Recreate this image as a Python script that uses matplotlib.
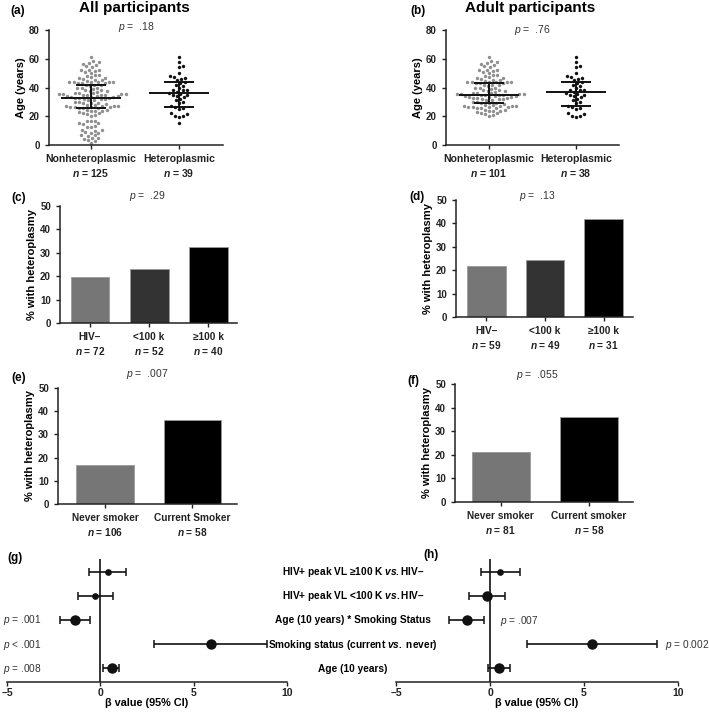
import numpy as np
import matplotlib
matplotlib.use("Agg")
import matplotlib.pyplot as plt

plt.rcParams['font.family'] = ['Liberation Sans', 'DejaVu Sans']
plt.rcParams['mathtext.fontset'] = 'custom'
plt.rcParams['mathtext.it'] = 'Liberation Sans:bold:italic'
plt.rcParams['mathtext.rm'] = 'Liberation Sans:bold'
plt.rcParams['mathtext.sf'] = 'Liberation Sans:italic'
plt.rcParams['axes.unicode_minus'] = False

# bold font for the category / row labels
CAL = ['Liberation Sans Narrow', 'Liberation Sans']

# ---- data ----
# ages of adult participants (panel b), children added for panel a
nonhet_adult_age = [
    61.5, 58, 58.5, 56.5, 57, 56, 54.5, 55, 52, 52.5, 51.5, 52, 50, 50.5,
    48.5, 49, 48, 46.5, 47, 46, 46.5, 45, 45.5, 44.5,
    43.5, 43, 44, 43.5, 43, 44, 43.5, 43, 44,
    41.5, 42, 41, 41.5, 39.5, 40, 39, 39.5,
    37.5, 38, 37, 37.5, 38,
    35.5, 35, 36, 35.5, 35, 36, 35.5, 35, 36, 35.5, 35,
    33.5, 34, 33, 33.5, 34, 33, 33.5, 34, 33,
    32, 31.5, 32, 31.5, 32, 29.5, 30, 29, 29.5, 30, 28, 28.5, 27.5,
    26.5, 27, 26, 26.5, 27, 26, 26.5, 27, 26, 26.5, 27,
    24, 24.5, 23.5, 24, 24.5, 22.5, 23, 22, 21, 21.5, 20.5,
]
nonhet_child_age = [17, 17, 16.5, 15, 15, 14.5, 13, 12.5, 12.5, 10.5, 10.5, 10,
                    9, 8.5, 8.5, 7, 7, 6.5, 5, 5, 4.5, 3.5, 3, 1.5]
het_adult_age = [61, 57.5, 55, 54, 50, 48, 47.5, 46.5, 46, 45, 43.5, 43, 42,
                 41, 40, 38.5, 38, 38, 37, 36.5, 35.5, 35, 35, 34, 33.5, 32,
                 31, 30, 29, 27, 26.5, 26, 25, 22, 21.5, 20.5, 20, 19.5]
het_child_age = [15]

# median and IQR lines (mid, low, high)
summ_all_nonhet = [33, 25.5, 41.5]
summ_all_het = [36.3, 26.5, 43.5]
summ_adult_nonhet = [34.5, 29, 43.3]
summ_adult_het = [37, 27, 43.7]

age_groups = ['Nonheteroplasmic', 'Heteroplasmic']
n_all = [125, 39]
n_adult = [101, 38]

hiv_groups = ['HIV\u2013', '<100 k', '\u2265100 k']
hiv_pct_all = [19.5, 23, 32.5]
hiv_n_all = [72, 52, 40]
hiv_pct_adult = [22, 24.5, 42]
hiv_n_adult = [59, 49, 31]

smk_all = ['Never smoker', 'Current Smoker']
smk_adult = ['Never smoker', 'Current smoker']
smk_pct_all = [17, 36]
smk_n_all = [106, 58]
smk_pct_adult = [21, 36]
smk_n_adult = [81, 58]

# forest plots, rows from bottom to top
forest_rows = ['Age (10 years)', 'Smoking status (current $\\mathit{vs.}$ never)',
               'Age (10 years) * Smoking Status',
               'HIV+ peak VL <100 K $\\mathit{vs.}$HIV\u2013',
               'HIV+ peak VL \u2265100 K $\\mathit{vs.}$HIV\u2013']
beta_all = [0.6, 5.94, -1.38, -0.27, 0.39]
lo_all = [0.16, 2.9, -2.18, -1.2, -0.6]
hi_all = [1.0, 8.95, -0.55, 0.7, 1.35]
p_all = ['= .008', '< .001', '= .001', '', '']
beta_adult = [0.5, 5.43, -1.25, -0.16, 0.55]
lo_adult = [-0.09, 1.96, -2.17, -1.14, -0.48]
hi_adult = [1.07, 8.9, -0.3, 0.8, 1.57]

W, H = 709, 712
fig = plt.figure(figsize=(W / 100, H / 100), dpi=100)


def ax_at(l, t, w, h):
    return fig.add_axes([l / W, 1 - (t + h) / H, w / W, h / H])


def ftext(x, y, s, **kw):
    return fig.text(x / W, 1 - y / H, s, **kw)


def style(ax, tickfont='Liberation Sans'):
    for s in ['top', 'right']:
        ax.spines[s].set_visible(False)
    for s in ['left', 'bottom']:
        ax.spines[s].set_linewidth(1.1)
        ax.spines[s].set_color('#222222')
    ax.tick_params(direction='out', length=3, width=1, colors='#222222')
    ax.tick_params(axis='y', labelsize=7)
    for lab in ax.get_yticklabels():
        lab.set_fontweight('bold')
        lab.set_family(tickfont)


def swarm(vals, px_y, px_x, d=4.3):
    # greedy beeswarm, offsets in data units
    vals = np.asarray(vals, float)
    order = np.argsort(vals)
    placed = []
    offs = np.zeros(len(vals))
    for i in order:
        y = vals[i] * px_y
        cands = [0.0]
        for px, py in placed:
            dy = y - py
            if abs(dy) < d:
                dx = np.sqrt(d * d - dy * dy)
                cands += [px + dx, px - dx]
        cands.sort(key=abs)
        for c in cands:
            if all((c - px) ** 2 + (y - py) ** 2 >= d * d - 1e-6 for px, py in placed):
                offs[i] = c
                placed.append((c, y))
                break
    return offs / px_x


def cat_labels(ax, groups, ns, size=8):
    ax.set_xticklabels([g + '\n$\\mathit{n}$ = %d' % n for g, n in zip(groups, ns)],
                       fontsize=size, family=CAL, fontweight='bold', linespacing=1.25)


def dot_panel(ax, groups, ages, summ, ns, px_x):
    px_y = 115 / 80
    cols = ['#8f8f8f', '#111111']
    for k, (a, s) in enumerate(zip(ages, summ)):
        off = swarm(a, px_y, px_x)
        ax.scatter(k + off, a, s=6, color=cols[k], linewidths=0, zorder=2)
        mid, lo, hi = s
        ax.hlines(mid, k - 0.34, k + 0.34, color='#111111', lw=1.4, zorder=3)
        ax.hlines([lo, hi], k - 0.17, k + 0.17, color='#111111', lw=1.4, zorder=3)
        ax.vlines(k, lo, hi, color='#111111', lw=1.4, zorder=3)
    ax.set_ylim(0, 80)
    ax.set_yticks([0, 20, 40, 60, 80])
    ax.set_xticks(range(len(groups)))
    cat_labels(ax, groups, ns, 7.5)
    ax.set_ylabel('Age (years)', fontsize=8, fontweight='bold', labelpad=2)
    style(ax)


def bar_panel(ax, groups, pct, ns, colors, tickfont='Liberation Sans'):
    x = np.arange(len(groups))
    ax.bar(x, pct, width=0.66, color=colors, edgecolor='#9a9a9a', linewidth=0.6)
    ax.set_ylim(0, 50)
    ax.set_yticks([0, 10, 20, 30, 40, 50])
    ax.set_xticks(x)
    cat_labels(ax, groups, ns, 7.3)
    ax.set_ylabel('% with heteroplasmy', fontsize=8, fontweight='bold', labelpad=2)
    style(ax, tickfont)


def forest_panel(ax, beta, lo, hi, big):
    y = np.arange(1, len(beta) + 1)
    for yi, b, l, h, bg in zip(y, beta, lo, hi, big):
        ax.errorbar(b, yi, xerr=[[b - l], [h - b]], fmt='o', color='#111111',
                    ms=6.5 if bg else 3.8, elinewidth=1.2, capsize=2.6, capthick=1.1)
    ax.axvline(0, color='#111111', lw=1.2)
    ax.set_xlim(-5, 10)
    ax.set_ylim(0.42, 5.54)
    ax.set_yticks([])
    ax.spines['left'].set_visible(False)
    ax.set_xticks([-5, 0, 5, 10])
    ax.set_xticklabels(['\u20135', '0', '5', '10'], family=CAL, fontweight='bold', fontsize=7.5)
    ax.set_xlabel('\u03b2 value (95% CI)', family=CAL, fontweight='bold', fontsize=7.8, labelpad=0)
    style(ax)
    ax.tick_params(axis='x', pad=1)


# (a) and (b) age dot plots
ax = ax_at(49, 30, 174, 115)
ax.set_xlim(-0.477, 1.5)
dot_panel(ax, age_groups, [nonhet_adult_age + nonhet_child_age, het_adult_age + het_child_age],
          [summ_all_nonhet, summ_all_het], n_all, 88)
ax = ax_at(446, 30, 173, 115)
ax.set_xlim(-0.494, 1.494)
dot_panel(ax, age_groups, [nonhet_adult_age, het_adult_age],
          [summ_adult_nonhet, summ_adult_het], n_adult, 87)

# (c) and (d) HIV groups
hiv_cols = ['#767676', '#333333', '#000000']
ax = ax_at(60, 206, 177, 117)
bar_panel(ax, hiv_groups, hiv_pct_all, hiv_n_all, hiv_cols)
ax.set_xlim(-0.508, 2.49)
ax = ax_at(456, 200, 177, 117)
bar_panel(ax, hiv_groups, hiv_pct_adult, hiv_n_adult, hiv_cols)
ax.set_xlim(-0.52, 2.5)

# (e) and (f) smoking
smk_cols = ['#767676', '#000000']
ax = ax_at(58, 388, 179, 116)
bar_panel(ax, smk_all, smk_pct_all, smk_n_all, smk_cols, CAL)
ax.set_xlim(-0.537, 1.51)
ax = ax_at(455, 384, 178, 118)
bar_panel(ax, smk_adult, smk_pct_adult, smk_n_adult, smk_cols, CAL)
ax.set_xlim(-0.52, 1.5)

# (g) and (h) forest plots
axg = ax_at(7, 559, 280, 123)
forest_panel(axg, beta_all, lo_all, hi_all, [True, True, True, False, False])
axh = ax_at(396, 559, 282, 123)
forest_panel(axh, beta_adult, lo_adult, hi_adult, [True, True, True, True, False])

row_px = [669, 645, 620, 596, 572]
for lab, yp in zip(forest_rows, row_px):
    ftext(353, yp, lab, ha='center', va='center', family=CAL, fontweight='bold', fontsize=7.3)
for p, yp in zip(p_all, row_px):
    if p:
        ftext(3, yp, '$\\mathsf{p}$ ' + p, ha='left', va='center', fontsize=7.3, color='#333333')
ftext(500, 621, '$\\mathsf{p}$ = .007', ha='left', va='center', fontsize=7.3, color='#333333')
ftext(665, 645, '$\\mathsf{p}$ = 0.002', ha='left', va='center', fontsize=7.3, color='#333333')

# titles, panel letters, p values
ftext(134, 8, 'All participants', ha='center', va='center', fontsize=11, fontweight='bold')
ftext(530, 8, 'Adult participants', ha='center', va='center', fontsize=11, fontweight='bold')
for lab, x, y in [('(a)', 10, 11), ('(b)', 410, 11), ('(c)', 11, 198), ('(d)', 409, 197)]:
    ftext(x, y, lab, ha='left', va='center', fontsize=8.5, fontweight='bold')
for lab, x, y in [('(e)', 11, 378), ('(f)', 407, 381), ('(g)', 7, 558), ('(h)', 423, 555)]:
    ftext(x, y, lab, ha='left', va='center', fontsize=8.5, fontweight='bold', family=CAL)
for s, x, y in [('.18', 136, 27), ('.76', 532, 30), ('.29', 147, 196), ('.13', 537, 196),
                ('.007', 147, 374), ('.055', 537, 375)]:
    ftext(x, y, '$\\mathsf{p}$ =  ' + s, ha='center', va='center', fontsize=7.5, color='#333333')

fig.savefig('out.png', dpi=100)
